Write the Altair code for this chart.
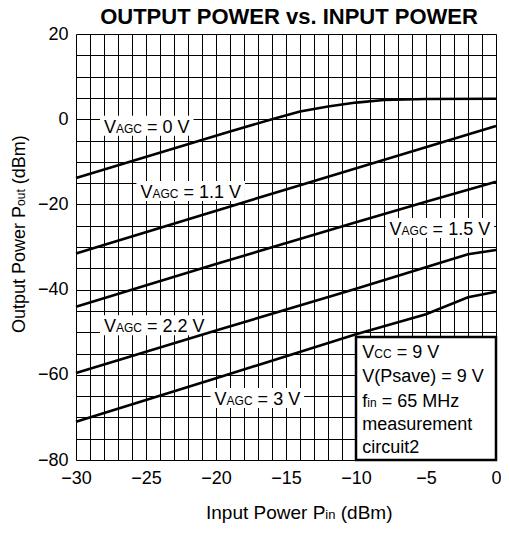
import altair as alt
import pandas as pd

FONT = "Liberation Sans"

# ---- curve data (Input power dBm -> Output power dBm) ----
x_0v = [-30, -19, -16, -14, -12, -10, -8, -5, 0]
y_0v = [-13.8, -2.9, 0.0, 1.8, 3.0, 3.9, 4.5, 4.75, 4.8]
x_11v = [-30, -15, 0]
y_11v = [-31.5, -16.5, -1.6]
x_15v = [-30, -20, -10, -5, 0]
y_15v = [-44.0, -34.0, -24.2, -19.4, -14.7]
x_22v = [-30, -20, -10, -2, 0]
y_22v = [-59.6, -49.6, -39.8, -31.7, -30.7]
x_3v = [-30, -20, -10, -5, -2, 0]
y_3v = [-71.0, -60.8, -50.5, -45.8, -41.8, -40.5]

curve_names = ["0", "1.1", "1.5", "2.2", "3"]
curve_xs = [x_0v, x_11v, x_15v, x_22v, x_3v]
curve_ys = [y_0v, y_11v, y_15v, y_22v, y_3v]

# ---- curve label anchors (data coords: text start, baseline) ----
label_x = [-28.0, -25.4, -7.6, -28.0, -20.1]
label_y = [-3.2, -18.5, -27.2, -50.0, -67.1]

# ---- condition box ----
box_x = [-10, 0]
box_y = [-51.1, -80]
box_text_x = -9.55
box_lines_y = [-56.1, -61.6, -67.5, -72.9, -78.4]

x_grid_values = list(range(-30, 1, 1))
y_grid_values = list(range(-80, 21, 5))

rows = []
for n, xs, ys in zip(curve_names, curve_xs, curve_ys):
    for a, b in zip(xs, ys):
        rows.append({"curve": n, "x": a, "y": b})
curves_df = pd.DataFrame(rows)

PW = 420
PH = 426

common_axis = dict(grid=True, ticks=False, domain=False, title=None, labelFlush=False,
                   labelOverlap=False, labelFontSize=18, labelFont=FONT, labelColor="black",
                   gridColor="black", gridWidth=1, gridOpacity=1)
x_axis = alt.Axis(values=x_grid_values, labelExpr="datum.value % 5 === 0 ? datum.label : ''",
                  labelPadding=9, **common_axis)
y_axis = alt.Axis(values=y_grid_values, labelExpr="datum.value % 20 === 0 ? datum.label : ''",
                  labelPadding=8, **common_axis)
xs_scale = alt.Scale(domain=[-30, 0], nice=False, zero=False)
ys_scale = alt.Scale(domain=[-80, 20], nice=False, zero=False)

def X(f="x"):
    return alt.X(f"{f}:Q", scale=xs_scale, axis=x_axis)

def Y(f="y"):
    return alt.Y(f"{f}:Q", scale=ys_scale, axis=y_axis)

WIDTHS = {" ": .278, "=": .584, "0": .556, "1": .556, "2": .556, "3": .556,
          "5": .556, "6": .556, "9": .556, ".": .278, "V": .667, "A": .667, "G": .778,
          "C": .722, "i": .222, "n": .556, "o": .556, "u": .556, "t": .278, "f": .278,
          "M": .833, "H": .722, "z": .5, "(": .333, ")": .333, "d": .556, "B": .667,
          "m": .833, "I": .278, "p": .556, "P": .667, "w": .722, "e": .556, "r": .333,
          "O": .778}

def tw(s, fs):
    return sum(WIDTHS[c] for c in s) * fs

def pieces_with_offsets(pieces):
    """pieces: list of (text, fontsize); leading spaces become dx offsets."""
    out = []
    dx = 0
    for t, fs in pieces:
        stripped = t.lstrip(" ")
        lead = len(t) - len(stripped)
        out.append((stripped, fs, dx + lead * WIDTHS[" "] * fs))
        dx += tw(t, fs)
    return out, dx

layers = []

# curve labels with white boxes
for name, lx, ly in zip(curve_names, label_x, label_y):
    parts, total = pieces_with_offsets([("V", 18), ("AGC", 12), (f" = {name} V", 18)])
    d = pd.DataFrame({"x": [lx], "y": [ly]})
    base = alt.Chart(d)
    layers.append(base.mark_rect(fill="white", xOffset=-4, x2Offset=total + 4,
                                 yOffset=-17, y2Offset=3)
                  .encode(x=X(), x2="x", y=Y(), y2="y"))
    for t, fs, dx in parts:
        layers.append(base.mark_text(align="left", baseline="alphabetic", fontSize=fs, font=FONT,
                                     color="black", dx=dx, text=t).encode(x=X(), y=Y()))

# curves
layers.append(alt.Chart(curves_df).mark_line(color="black", strokeWidth=2.6)
              .encode(x=X(), y=Y(), detail="curve:N"))

# condition box
bd = pd.DataFrame({"x": [box_x[0]], "x2": [box_x[1]], "y": [box_y[0]], "y2": [box_y[1]]})
layers.append(alt.Chart(bd).mark_rect(fill="white", stroke="black", strokeWidth=2.5)
              .encode(x=X(), x2="x2", y=Y(), y2="y2"))

box_pieces = [
    [("V", 18), ("CC", 12), (" = 9 V", 18)],
    [("V(Psave) = 9 V", 18)],
    [("f", 18), ("in", 12), (" = 65 MHz", 18)],
    [("measurement", 18)],
    [("circuit2", 18)],
]
for li, pieces in enumerate(box_pieces):
    if len(pieces) > 1:
        parts, _ = pieces_with_offsets(pieces)
    else:
        parts = [(pieces[0][0], pieces[0][1], 0)]
    d = pd.DataFrame({"x": [box_text_x], "y": [box_lines_y[li]]})
    for txt, fs, dx in parts:
        layers.append(alt.Chart(d).mark_text(align="left", baseline="alphabetic", fontSize=fs,
                                             font=FONT, color="black", dx=dx, text=txt)
                      .encode(x=X(), y=Y()))

# axis titles (composite text with subscripts), pixel positions relative to plot
one = pd.DataFrame({"a": [0]})
xparts, _ = pieces_with_offsets([("Input Power P", 19), ("in", 13), (" (dBm)", 19)])
for txt, fs, dx in xparts:
    layers.append(alt.Chart(one).mark_text(align="left", baseline="alphabetic", fontSize=fs,
                                           font=FONT, color="black", dx=dx, text=txt)
                  .encode(x=alt.value(130), y=alt.value(485)))
yparts, _ = pieces_with_offsets([("Output Power P", 18), ("out", 12), (" (dBm)", 18)])
for txt, fs, dx in yparts:
    layers.append(alt.Chart(one).mark_text(align="left", baseline="alphabetic", fontSize=fs,
                                           font=FONT, color="black", dx=dx, angle=270, text=txt)
                  .encode(x=alt.value(-51), y=alt.value(299)))

# chart title
layers.append(alt.Chart(one).mark_text(align="center", baseline="alphabetic", fontSize=22,
                                       font=FONT, fontWeight="bold", color="black",
                                       text="OUTPUT POWER vs. INPUT POWER")
              .encode(x=alt.value(213), y=alt.value(-10)))

chart = alt.layer(*layers).properties(
    width=PW, height=PH,
    autosize="none",
    padding={"left": 68, "top": 26, "right": 5, "bottom": 64},
).configure_view(stroke="black", strokeWidth=2.5).configure(background="white")

chart.save("out.html", embed_options={"renderer": "svg", "actions": False})
